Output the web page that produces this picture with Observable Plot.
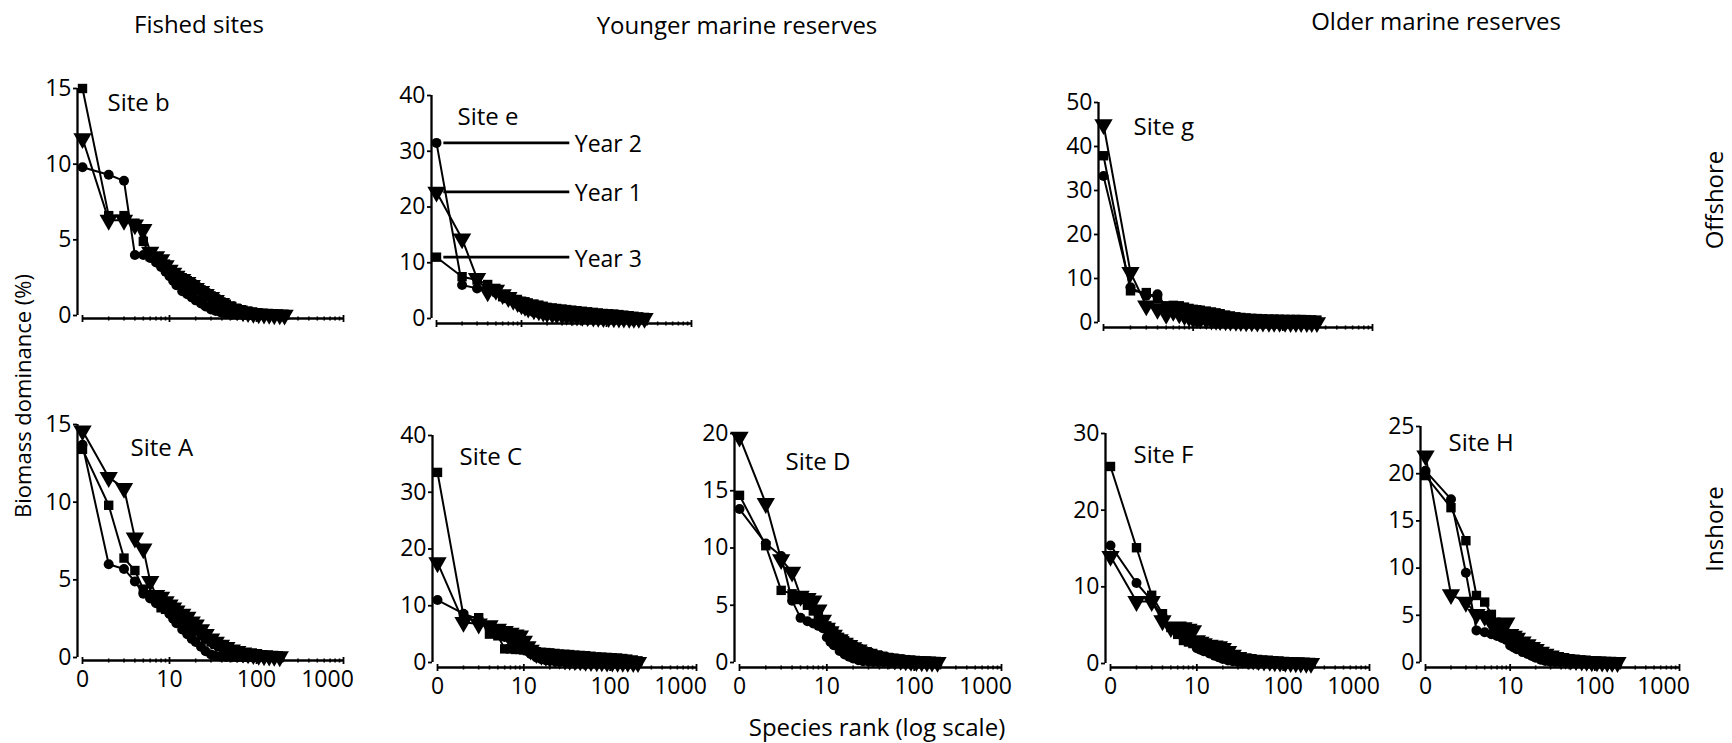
<!DOCTYPE html>
<html><head><meta charset="utf-8">
<script src="https://cdn.jsdelivr.net/npm/d3@7"></script>
<script src="https://cdn.jsdelivr.net/npm/@observablehq/plot@0.6"></script>
<style>
body{margin:0;background:#fff;}
#root{position:relative;width:1732px;height:743px;font-family:"Open Sans",sans-serif;color:#000;overflow:hidden;background:#fff}
.lbl{position:absolute;font-size:24px;white-space:nowrap;line-height:1;transform:translate(-50%,-50%)}
.rot{transform:translate(-50%,-50%) rotate(-90deg)}
.small{font-size:22px}
.panel{position:absolute}
</style></head><body><div id="root"></div>
<script>
// ---- data ----
const ranks = [1,2,3,4,5,6,7,8,9,10,11,12,14,16,18,20,23,26,30,34,39,45,52,60,70,80,92,106,122,140,160,185,210,240,280];
const years = ["Year 1","Year 2","Year 3"];
const xMajor = [1,10,100,1000];
const xMajorLabels = ["0","10","100","1000"];
const xMinor = [2,3,4,5,6,7,8,9,20,30,40,50,60,70,80,90,200,300,400,500,600,700,800,900];

// Site b (fished, offshore)
const b_year1 = [11.7,6.3,6.3,6.0,5.7,4.2,3.9,3.7,3.3,3.0,2.8,2.6,2.4,2.2,2.0,1.8,1.6,1.4,1.2,1.0,0.8,0.6,0.45,0.35,0.25,0.2,0.15,0.12,0.1,0.08,0.06,0.05,0.03];
const b_year2 = [9.8,9.3,8.9,4.0,4.0,3.8,3.5,3.2,2.9,2.6,2.3,2.0,1.6,1.4,1.2,1.0,0.8,0.6,0.4,0.3,0.2,0.1,0.05,0.03,0.02,0.01,0.01,0,0,0,0,0,0];
const b_year3 = [15.0,6.6,6.6,6.1,4.9,3.9,3.8,3.6,3.4,2.9,2.7,2.6,2.5,2.3,2.1,1.9,1.7,1.5,1.3,1.1,0.9,0.75,0.6,0.45,0.35,0.28,0.2,0.15,0.12,0.1,0.08,0.06,0.04];
// Site e (younger reserve, offshore)
const e_year1 = [22.7,14.3,7.2,4.8,5.1,4.3,3.8,3.3,2.9,2.5,2.2,1.9,1.6,1.4,1.2,1.05,0.9,0.8,0.7,0.6,0.5,0.45,0.4,0.35,0.3,0.25,0.2,0.18,0.15,0.12,0.1,0.08,0.06,0.05,0.04];
const e_year2 = [31.5,6.0,5.4,5.0,4.6,4.2,3.6,3.1,2.7,2.0,1.7,1.5,1.1,0.9,0.75,0.65,0.55,0.5,0.45,0.4,0.35,0.3,0.25,0.2,0.15,0.1,0.08,0.06,0.04,0.03,0.02,0.01,0.01,0,0];
const e_year3 = [11.0,7.5,6.9,6.1,5.4,3.9,3.6,3.4,3.2,3.1,3.0,2.8,2.6,2.4,2.2,2.0,1.9,1.8,1.7,1.6,1.5,1.4,1.3,1.2,1.1,1.0,0.9,0.85,0.8,0.7,0.6,0.5,0.4,0.3,0.2];
// Site g (older reserve, offshore)
const g_year1 = [45.0,11.4,3.8,3.0,1.9,2.6,2.0,1.6,1.3,1.0,0.9,0.8,0.7,0.6,0.5,0.45,0.4,0.35,0.3,0.25,0.2,0.18,0.15,0.12,0.1,0.08,0.06,0.05,0.04,0.03,0.02,0.02,0.01,0.01];
const g_year2 = [33.3,8.0,6.1,6.4,3.4,3.3,3.1,2.9,2.7,2.5,2.3,2.2,2.0,1.8,1.6,1.5,1.3,1.2,1.05,0.95,0.85,0.75,0.65,0.55,0.5,0.45,0.4,0.35,0.3,0.25,0.2,0.15,0.1,0.05];
const g_year3 = [37.9,7.2,6.8,5.3,3.8,3.9,3.8,3.5,3.2,3.0,2.9,2.8,2.6,2.4,2.2,2.0,1.7,1.5,1.3,1.15,1.05,0.95,0.9,0.85,0.8,0.78,0.75,0.72,0.7,0.7,0.68,0.65,0.6,0.55];
// Site A (fished, inshore)
const A_year1 = [14.6,11.6,10.9,7.7,7.0,4.9,4.0,3.9,3.6,3.4,3.2,3.0,2.8,2.6,2.3,2.1,1.8,1.5,1.2,1.0,0.8,0.65,0.5,0.4,0.3,0.25,0.2,0.15,0.12,0.1,0.08,0.06];
const A_year2 = [13.7,6.0,5.7,4.9,4.1,3.8,3.5,3.3,3.1,2.8,2.5,2.2,1.8,1.5,1.2,1.0,0.7,0.4,0.2,0.1,0.05,0.03,0.02,0.01,0.01,0,0,0,0,0,0,0];
const A_year3 = [13.4,9.8,6.4,5.6,4.4,4.0,3.7,3.2,3.1,3.0,2.8,2.7,2.4,2.2,1.9,1.7,1.4,1.2,1.0,0.85,0.7,0.55,0.45,0.35,0.28,0.22,0.17,0.13,0.1,0.08,0.06,0.04];
// Site C (younger reserve, inshore)
const C_year1 = [17.6,7.1,6.8,6.5,5.9,5.5,5.2,4.9,4.7,3.8,2.8,2.2,1.6,1.3,1.1,0.9,0.75,0.6,0.5,0.4,0.35,0.3,0.25,0.2,0.16,0.13,0.1,0.08,0.06,0.05,0.04,0.03,0.02];
const C_year2 = [11.0,8.6,7.6,6.0,5.2,4.5,4.0,3.6,3.2,2.6,2.0,1.5,0.9,0.6,0.4,0.3,0.2,0.15,0.1,0.08,0.06,0.05,0.04,0.03,0.02,0.02,0.01,0.01,0,0,0,0,0];
const C_year3 = [33.5,8.2,7.9,5.0,4.7,2.4,2.4,2.3,2.3,2.2,2.1,2.0,1.9,1.8,1.75,1.7,1.6,1.5,1.45,1.4,1.3,1.25,1.2,1.1,1.0,0.95,0.9,0.85,0.8,0.7,0.6,0.45,0.3];
// Site D (younger reserve, inshore)
const D_year1 = [19.7,13.9,9.0,7.9,5.8,5.6,5.4,4.6,3.7,3.0,2.7,2.4,2.0,1.7,1.5,1.3,1.1,0.9,0.75,0.6,0.5,0.4,0.32,0.25,0.2,0.15,0.12,0.1,0.08,0.06,0.04,0.02];
const D_year2 = [13.4,10.4,9.3,5.4,3.9,3.6,3.4,3.2,3.0,2.2,1.8,1.5,1.0,0.7,0.5,0.35,0.2,0.12,0.08,0.05,0.03,0.02,0.01,0.01,0,0,0,0,0,0,0,0];
const D_year3 = [14.6,10.2,6.3,6.0,5.5,5.0,4.5,4.1,3.6,3.2,2.9,2.6,2.2,1.9,1.6,1.4,1.2,1.0,0.85,0.7,0.6,0.5,0.42,0.35,0.3,0.25,0.2,0.16,0.13,0.1,0.08,0.06];
// Site F (older reserve, inshore)
const F_year1 = [14.0,8.1,8.1,5.6,4.7,4.8,4.7,4.5,4.3,3.0,2.8,2.6,2.4,2.3,2.2,2.0,1.6,1.1,0.8,0.65,0.55,0.45,0.4,0.35,0.3,0.25,0.2,0.17,0.14,0.11,0.08,0.05,0.03];
const F_year2 = [15.4,10.5,8.2,6.2,4.7,3.9,3.4,3.0,2.7,2.0,1.8,1.6,1.3,1.0,0.8,0.6,0.4,0.3,0.2,0.15,0.1,0.08,0.06,0.05,0.04,0.03,0.02,0.02,0.01,0.01,0.01,0,0];
const F_year3 = [25.7,15.1,8.9,6.5,4.7,3.8,3.0,2.8,2.6,2.4,2.2,2.1,1.9,1.7,1.5,1.3,1.1,0.9,0.5,0.3,0.2,0.15,0.12,0.1,0.08,0.07,0.06,0.05,0.04,0.03,0.02,0.01,0];
// Site H (older reserve, inshore)
const H_year1 = [21.9,7.2,6.4,5.1,4.9,4.2,3.4,4.1,4.2,3.0,2.8,2.6,2.2,1.9,1.6,1.4,1.1,0.9,0.7,0.55,0.45,0.35,0.28,0.22,0.17,0.13,0.1,0.08,0.06,0.04,0.03,0.02];
const H_year2 = [20.3,17.3,9.5,3.4,3.2,3.0,2.8,2.6,2.4,1.8,1.6,1.4,1.1,0.9,0.7,0.5,0.3,0.15,0.08,0.04,0.02,0.01,0.01,0,0,0,0,0,0,0,0,0];
const H_year3 = [19.8,16.4,12.9,7.1,6.4,5.1,4.1,3.5,3.0,2.6,2.3,2.1,1.8,1.6,1.4,1.2,1.0,0.85,0.7,0.6,0.5,0.42,0.35,0.3,0.25,0.2,0.16,0.13,0.1,0.08,0.06,0.04];

const ticks15 = [0,5,10,15];
const ticks20 = [0,5,10,15,20];
const ticks25 = [0,5,10,15,20,25];
const ticks30 = [0,10,20,30];
const ticks40 = [0,10,20,30,40];
const ticks50 = [0,10,20,30,40,50];

// ---- layout (pixel positions of each panel) ----
const panels = [
  {label:"Site b", series:[b_year1,b_year2,b_year3], ticks:ticks15, axisX:77,  x1000:343,  yTop:88,  y0:315, xAxisY:318, bottom:false, ldx:30, ldy:5},
  {label:"Site e", series:[e_year1,e_year2,e_year3], ticks:ticks40, axisX:431, x1000:691,  yTop:95,  y0:318, xAxisY:323, bottom:false, ldx:26, ldy:12, legend:true},
  {label:"Site g", series:[g_year1,g_year2,g_year3], ticks:ticks50, axisX:1098,x1000:1372, yTop:102, y0:322, xAxisY:327, bottom:false, ldx:35, ldy:15},
  {label:"Site A", series:[A_year1,A_year2,A_year3], ticks:ticks15, axisX:77,  x1000:343,  yTop:424, y0:657, xAxisY:660, bottom:true, ldx:53, ldy:14},
  {label:"Site C", series:[C_year1,C_year2,C_year3], ticks:ticks40, axisX:432, x1000:696,  yTop:435, y0:662, xAxisY:667, bottom:true, ldx:27, ldy:12},
  {label:"Site D", series:[D_year1,D_year2,D_year3], ticks:ticks20, axisX:734, x1000:1001, yTop:433, y0:662, xAxisY:667, bottom:true, ldx:51, ldy:19},
  {label:"Site F", series:[F_year1,F_year2,F_year3], ticks:ticks30, axisX:1105,x1000:1369, yTop:433, y0:663, xAxisY:667, bottom:true, ldx:28, ldy:12},
  {label:"Site H", series:[H_year1,H_year2,H_year3], ticks:ticks25, axisX:1420,x1000:1679, yTop:426, y0:662, xAxisY:667, bottom:true, ldx:28, ldy:7}
];

const vTick = {draw(ctx, size){ const h = Math.sqrt(size/Math.PI); ctx.moveTo(0,-h); ctx.lineTo(0,h); }};
const root = document.getElementById("root");
const labelOf = d => xMajorLabels[xMajor.indexOf(d)];

function drawPanel(p){
  const rows = [];
  p.series.forEach((vals,k) => vals.forEach((v,i) => rows.push({rank: ranks[i], value: v, year: years[k]})));
  const mL = 48, mR = 30, mT = 14, mB = p.bottom ? 40 : 12;
  const left = p.axisX - mL, top = p.yTop - mT;
  const width = p.x1000 + mR - left, height = p.xAxisY + mB - top;
  const ib = p.xAxisY - p.y0;
  const yMaxV = p.ticks[p.ticks.length-1];
  const marks = [
    Plot.ruleX([1], {y1: 0, y2: yMaxV, dx: -5, stroke: "#000", strokeWidth: 2.3}),
    Plot.axisY({ticks: p.ticks, tickSize: 4, tickPadding: 2, fontSize: 23, label: null, strokeWidth: 1.8}),
    Plot.ruleY([0], {x1: 1, x2: 1000, dy: ib, stroke: "#000", strokeWidth: 2.3}),
    Plot.dot(xMinor, {x: d => d, frameAnchor: "bottom", symbol: vTick, r: 2, fill: "none", stroke: "#000", strokeWidth: 1.6}),
    Plot.dot(xMajor, {x: d => d, frameAnchor: "bottom", symbol: vTick, r: 3.5, fill: "none", stroke: "#000", strokeWidth: 1.8}),
    Plot.line(rows, {x: "rank", y: "value", z: "year", stroke: "#000", strokeWidth: 2}),
    Plot.dot(rows.filter(d => d.year === "Year 3"), {x: "rank", y: "value", symbol: "square", r: 5.3, fill: "#000"}),
    Plot.dot(rows.filter(d => d.year === "Year 2"), {x: "rank", y: "value", symbol: "circle", r: 5, fill: "#000"}),
    Plot.dot(rows.filter(d => d.year === "Year 1"), {x: "rank", y: "value", symbol: "triangle", rotate: 180, r: 6.8, fill: "#000"}),
    Plot.text([p.label], {frameAnchor: "top-left", dx: p.ldx, dy: p.ldy, textAnchor: "start", fontSize: 24})
  ];
  if (p.bottom) {
    marks.push(Plot.axisX({ticks: xMajor.slice(0, 3), tickSize: 0, tickPadding: 10, fontSize: 23, label: null, tickFormat: labelOf}));
    marks.push(Plot.axisX({ticks: xMajor.slice(3), tickSize: 0, tickPadding: 10, fontSize: 23, label: null, tickFormat: labelOf, dx: -16}));
  }
  if (p.legend) {
    const leg = [
      {name: "Year 2", v: p.series[1][0]},
      {name: "Year 1", v: p.series[0][0]},
      {name: "Year 3", v: p.series[2][0]}
    ];
    marks.push(Plot.ruleY(leg, {y: "v", x1: 1.22, x2: 37, stroke: "#000", strokeWidth: 2.8}));
    marks.push(Plot.text(leg, {y: "v", x: 37, text: "name", dx: 5, dy: 2, textAnchor: "start", fontSize: 23}));
  }
  const svg = Plot.plot({
    width, height,
    marginLeft: mL, marginRight: mR, marginTop: mT, marginBottom: mB,
    x: {type: "log", domain: [1, 1000], insetLeft: 5, axis: null},
    y: {domain: [0, yMaxV], insetBottom: ib, axis: null},
    style: {fontFamily: "'Open Sans', sans-serif", overflow: "visible", background: "transparent", color: "#000"},
    marks
  });
  svg.classList.add("panel");
  svg.style.left = left + "px";
  svg.style.top = top + "px";
  root.appendChild(svg);
}
panels.forEach(drawPanel);

// ---- headings and shared labels ----
const texts = [
  {t: "Fished sites", x: 199, y: 24, cls: ""},
  {t: "Younger marine reserves", x: 737, y: 25, cls: ""},
  {t: "Older marine reserves", x: 1436, y: 21, cls: ""},
  {t: "Offshore", x: 1714, y: 200, cls: "rot"},
  {t: "Inshore", x: 1714, y: 529, cls: "rot"},
  {t: "Biomass dominance (%)", x: 22, y: 396, cls: "rot small"},
  {t: "Species rank (log scale)", x: 877, y: 727, cls: ""}
];
texts.forEach(o => {
  const d = document.createElement("div");
  d.className = "lbl " + o.cls;
  d.textContent = o.t;
  d.style.left = o.x + "px";
  d.style.top = o.y + "px";
  root.appendChild(d);
});
</script></body></html>
